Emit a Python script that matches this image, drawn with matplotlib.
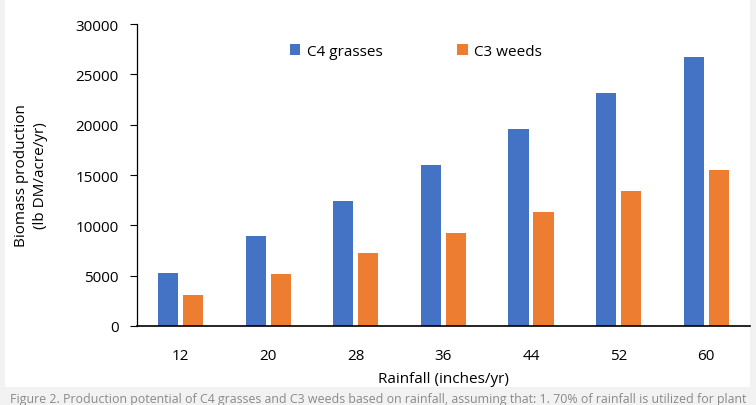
import numpy as np
import matplotlib.pyplot as plt
from matplotlib.patches import Rectangle

rainfall = ['12', '20', '28', '36', '44', '52', '60']
c4_grasses = [5300, 8900, 12400, 16000, 19600, 23150, 26770]
c3_weeds = [3100, 5200, 7250, 9280, 11370, 13430, 15520]

plt.rcParams['font.family'] = ['Open Sans', 'DejaVu Sans']

fig = plt.figure(figsize=(7.56, 4.06), dpi=100, facecolor='#f2f2f2')
fig.patches.append(Rectangle((0.006, 0.045), 0.986, 0.96, transform=fig.transFigure,
                             facecolor='white', edgecolor='none', zorder=0))

ax = fig.add_axes([0.181, 0.195, 0.811, 0.743])
ax.set_zorder(2)
ax.set_facecolor('white')

x = np.arange(len(rainfall))
w = 0.23
off = 0.143
ax.bar(x - off, c4_grasses, w, color='#4472c4', label='C4 grasses')
ax.bar(x + off, c3_weeds, w, color='#ed7d31', label='C3 weeds')

ax.set_xlim(-0.5, 6.5)
ax.set_ylim(0, 30000)
ax.set_yticks(range(0, 30001, 5000))
ax.set_xticks(x)
ax.set_xticklabels(rainfall)
ax.tick_params(axis='x', length=0, pad=16, labelsize=11)
ax.tick_params(axis='y', length=5, width=0.8, pad=8, labelsize=11)
for s in ['top', 'right']:
    ax.spines[s].set_visible(False)
ax.spines['left'].set_linewidth(0.9)
ax.spines['bottom'].set_linewidth(1.2)

ax.set_xlabel('Rainfall (inches/yr)', fontsize=11, labelpad=6)
ax.set_ylabel('Biomass production\n(lb DM/acre/yr)', fontsize=11, labelpad=20,
              linespacing=1.3)

ax.legend(loc='upper center', bbox_to_anchor=(0.455, 0.98), ncol=2, frameon=False,
          fontsize=11, handlelength=0.7, handleheight=0.7, columnspacing=4.9,
          handletextpad=0.4)

fig.text(0.5, 0.0, 'Figure 2. Production potential of C4 grasses and C3 weeds based on rainfall, '
         'assuming that: 1. 70% of rainfall is utilized for plant',
         ha='center', va='bottom', fontsize=8.9, color='#8a8a8a')

fig.savefig('out.png', dpi=100, facecolor=fig.get_facecolor())
